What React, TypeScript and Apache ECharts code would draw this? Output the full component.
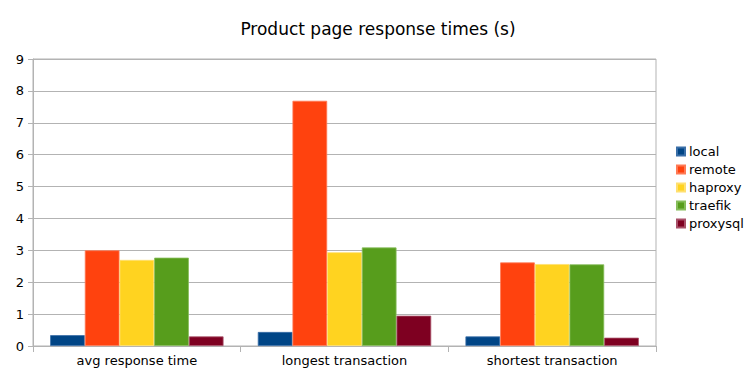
import React, { useEffect, useRef } from "react";
import * as echarts from "echarts";

const categories = ["avg response time", "longest transaction", "shortest transaction"];
const seriesNames = ["local", "remote", "haproxy", "traefik", "proxysql"];
const localValues = [0.34, 0.44, 0.3];
const remoteValues = [3.0, 7.69, 2.62];
const haproxyValues = [2.7, 2.94, 2.57];
const traefikValues = [2.77, 3.09, 2.56];
const proxysqlValues = [0.3, 0.95, 0.26];
const colors = ["#004586", "#ff420e", "#ffd320", "#579d1c", "#7e0021"];
const borderColors = ["#3a6fa8", "#ff7a55", "#ffe070", "#86bd5a", "#a85068"];

export default function App() {
  const ref = useRef<HTMLDivElement>(null);
  useEffect(() => {
    if (!ref.current) return;
    const chart = echarts.init(ref.current, undefined, { renderer: "svg" });
    const values = [localValues, remoteValues, haproxyValues, traefikValues, proxysqlValues];
    const font = "DejaVu Sans";
    chart.setOption({
      animation: false,
      backgroundColor: "#ffffff",
      title: {
        text: "Product page response times (s)",
        left: "center",
        top: 15,
        textStyle: { fontFamily: font, fontSize: 17, fontWeight: "normal", color: "#000" },
      },
      legend: {
        orient: "vertical",
        left: 671,
        top: 140,
        itemWidth: 8,
        itemHeight: 8,
        itemGap: 5,
        icon: "rect",
        data: seriesNames,
        textStyle: { fontFamily: font, fontSize: 13, color: "#000", padding: [0, 0, 0, -1] },
      },
      grid: {
        left: 33,
        right: 100,
        top: 59,
        bottom: 32,
        show: true,
        borderColor: "#b3b3b3",
        borderWidth: 1,
      },
      xAxis: {
        type: "category",
        data: categories,
        axisLine: { lineStyle: { color: "#b3b3b3" } },
        axisTick: { show: true, length: 6, alignWithLabel: false, lineStyle: { color: "#b3b3b3" } },
        axisLabel: { fontFamily: font, fontSize: 13, color: "#000", margin: 8 },
      },
      yAxis: {
        type: "value",
        min: 0,
        max: 9,
        interval: 1,
        axisLine: { show: true, lineStyle: { color: "#b3b3b3" } },
        axisTick: { show: true, length: 5, lineStyle: { color: "#b3b3b3" } },
        splitLine: { lineStyle: { color: "#b3b3b3" } },
        axisLabel: { fontFamily: font, fontSize: 13, color: "#000", margin: 9 },
      },
      series: seriesNames.map((name, i) => ({
        name,
        type: "bar",
        data: values[i],
        barGap: "0%",
        barCategoryGap: "16.5%",
        itemStyle: { color: colors[i], borderColor: borderColors[i], borderWidth: 0.8 },
      })),
    });
    return () => chart.dispose();
  }, []);
  return <div ref={ref} style={{ position: "absolute", left: 0, top: 0, width: 756, height: 378 }} />;
}
